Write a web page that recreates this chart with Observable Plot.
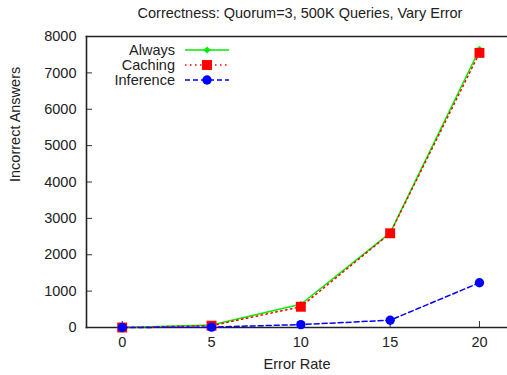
<!DOCTYPE html>
<html><head><meta charset="utf-8">
<script src="https://cdn.jsdelivr.net/npm/d3@7"></script>
<script src="https://cdn.jsdelivr.net/npm/@observablehq/plot@0.6"></script>
<style>
body{margin:0;background:#fff;font-family:"Liberation Sans",Arial,sans-serif;}
#wrap{position:relative;width:507px;height:375px;}
#title{height:26px;line-height:26px;font-size:14.5px;color:#222;padding-left:93px;text-align:center;}
#legend{position:absolute;left:0;top:0;}
</style></head>
<body><div id="wrap"><div id="title">Correctness: Quorum=3, 500K Queries, Vary Error</div><div id="chart"></div><svg id="legend" width="260" height="100"></svg></div>
<script>
const errorRates = [0, 5, 10, 15, 20];
const always = [0, 70, 640, 2600, 7650];
const caching = [0, 50, 570, 2590, 7550];
const inference = [0, 10, 80, 200, 1230];
const yTicks = [0, 1000, 2000, 3000, 4000, 5000, 6000, 7000, 8000];
const seriesNames = ["Always", "Caching", "Inference"];

const styles = {
  Always: {color: "#00ee00", dash: null, symbol: "diamond2", r: 3.2},
  Caching: {color: "#ff0000", dash: "1.5,3.5", symbol: "square", r: 5.6},
  Inference: {color: "#0000ff", dash: "5,3", symbol: "circle", r: 4.7}
};
const values = {Always: always, Caching: caching, Inference: inference};
const rows = [];
for (const s of seriesNames) errorRates.forEach((e, i) => rows.push({series: s, x: e, y: values[s][i]}));

const marks = [];
for (const s of seriesNames) {
  const d = rows.filter(r => r.series === s);
  const st = styles[s];
  marks.push(Plot.line(d, {x: "x", y: "y", stroke: st.color, strokeWidth: 1.5, strokeDasharray: st.dash}));
  marks.push(Plot.dot(d, {x: "x", y: "y", fill: st.color, symbol: st.symbol, r: st.r}));
}

const chart = Plot.plot({
  width: 507, height: 349,
  marginTop: 10, marginBottom: 48, marginLeft: 86, marginRight: 0,
  style: {fontFamily: "Liberation Sans, Arial, sans-serif", fontSize: "14.5px", color: "#222"},
  x: {domain: [-2, 21.57]},
  y: {domain: [0, 8000]},
  marks: [
    Plot.axisX(errorRates, {tickSize: -6, tickPadding: 15, stroke: "#333", label: null, tickFormat: "d"}),
    Plot.axisY(yTicks, {tickSize: -6, tickPadding: 16, stroke: "#333", label: null, tickFormat: "d"}),
    Plot.text(["Error Rate"], {frameAnchor: "bottom", dy: 41, fontSize: 14.5}),
    Plot.text(["Incorrect Answers"], {frameAnchor: "left", rotate: -90, dx: -71, fontSize: 14.5}),
    Plot.frame({anchor: "left", stroke: "#222", strokeWidth: 1.6}),
    Plot.frame({anchor: "top", stroke: "#222", strokeWidth: 1.6}),
    Plot.frame({anchor: "bottom", stroke: "#222", strokeWidth: 1.6}),
    ...marks
  ]
});
document.getElementById("chart").appendChild(chart);

// legend
const lg = d3.select("#legend");
const symMap = {diamond2: d3.symbolDiamond2, square: d3.symbolSquare, circle: d3.symbolCircle};
seriesNames.forEach((s, i) => {
  const st = styles[s];
  const y = 50 + 15 * i;
  lg.append("text").attr("x", 175).attr("y", y).attr("dy", "0.35em").attr("text-anchor", "end")
    .attr("font-size", 14.5).attr("fill", "#222").text(s);
  lg.append("line").attr("x1", 185).attr("x2", 229).attr("y1", y).attr("y2", y)
    .attr("stroke", st.color).attr("stroke-width", 1.5).attr("stroke-dasharray", st.dash);
  lg.append("path").attr("transform", `translate(207,${y})`)
    .attr("d", d3.symbol(symMap[st.symbol], Math.PI * st.r * st.r)()).attr("fill", st.color);
});
</script></body></html>
